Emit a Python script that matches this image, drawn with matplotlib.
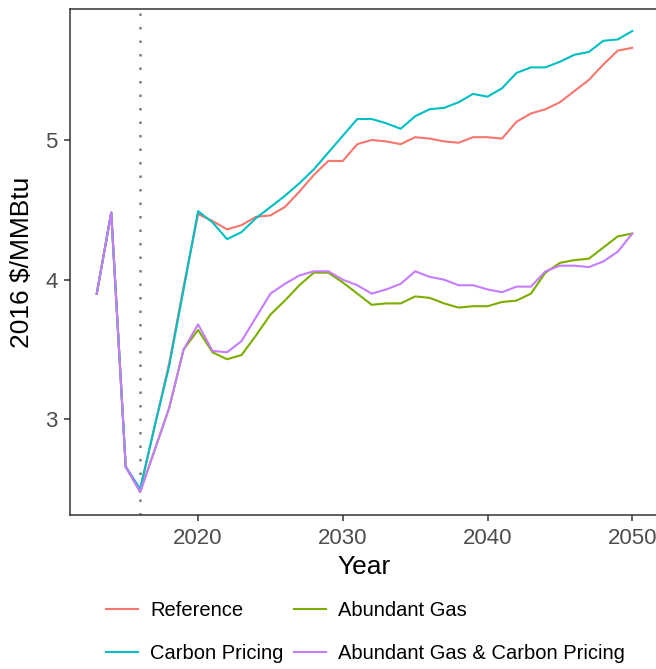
import numpy as np
import matplotlib
matplotlib.use("Agg")
import matplotlib.pyplot as plt

plt.rcParams['font.family'] = ['Liberation Sans', 'DejaVu Sans']

years = list(range(2013, 2051))

# Henry Hub style gas price, 2016 $/MMBtu, by scenario
reference = [3.90, 4.48, 2.66, 2.50, 2.95, 3.40, 3.95, 4.47,
             4.42, 4.36, 4.39, 4.45, 4.46, 4.52, 4.63, 4.75, 4.85, 4.85,
             4.97, 5.00, 4.99, 4.97, 5.02, 5.01, 4.99, 4.98, 5.02, 5.02,
             5.01, 5.13, 5.19, 5.22, 5.27, 5.35, 5.43, 5.54, 5.64, 5.66]
abundant_gas = [3.90, 4.48, 2.66, 2.48, 2.78, 3.08, 3.50, 3.64,
                3.48, 3.43, 3.46, 3.60, 3.75, 3.85, 3.96, 4.05, 4.05, 3.98,
                3.90, 3.82, 3.83, 3.83, 3.88, 3.87, 3.83, 3.80, 3.81, 3.81,
                3.84, 3.85, 3.90, 4.05, 4.12, 4.14, 4.15, 4.23, 4.31, 4.33]
carbon_pricing = [3.90, 4.48, 2.66, 2.50, 2.95, 3.38, 3.93, 4.49,
                  4.41, 4.29, 4.34, 4.44, 4.52, 4.60, 4.69, 4.79, 4.91, 5.03,
                  5.15, 5.15, 5.12, 5.08, 5.17, 5.22, 5.23, 5.27, 5.33, 5.31,
                  5.37, 5.48, 5.52, 5.52, 5.56, 5.61, 5.63, 5.71, 5.72, 5.78]
abundant_gas_cp = [3.90, 4.48, 2.66, 2.48, 2.78, 3.08, 3.50, 3.68,
                   3.49, 3.48, 3.56, 3.73, 3.90, 3.97, 4.03, 4.06, 4.06, 4.00,
                   3.96, 3.90, 3.93, 3.97, 4.06, 4.02, 4.00, 3.96, 3.96, 3.93,
                   3.91, 3.95, 3.95, 4.06, 4.10, 4.10, 4.09, 4.13, 4.20, 4.33]

scenarios = ["Reference", "Abundant Gas", "Carbon Pricing",
             "Abundant Gas & Carbon Pricing"]
series = [reference, abundant_gas, carbon_pricing, abundant_gas_cp]
colors = ["#F8766D", "#7CAE00", "#00BFC4", "#C77CFF"]
base_year = 2016

fig = plt.figure(figsize=(6.56, 6.69), dpi=100)
ax = fig.add_axes([70 / 656, 1 - 515 / 669, 589 / 656, (515 - 8.7) / 669])

ax.axvline(base_year, color="#7F7F7F", lw=1.8, linestyle=(0, (1, 4.4)),
           dash_capstyle="butt", zorder=1)

handles = {}
for name, vals, c in zip(scenarios, series, colors):
    h, = ax.plot(years, vals, color=c, lw=1.5, label=name, zorder=2)
    handles[name] = h

ax.set_xlim(2011.15, 2051.85)
ax.set_ylim(2.315, 5.94)
ax.set_xticks([2020, 2030, 2040, 2050])
ax.set_yticks([3, 4, 5])

for s in ax.spines.values():
    s.set_color("#333333")
    s.set_linewidth(1.1)
ax.tick_params(axis="both", direction="out", length=4, width=1.1,
               color="#333333", labelcolor="#4D4D4D", labelsize=16, pad=5)

ax.set_xlabel("Year", fontsize=19, color="black", labelpad=5)
ax.set_ylabel("2016 $/MMBtu", fontsize=19, color="black", labelpad=8)

# two-by-two legend under the plot
order = ["Reference", "Carbon Pricing", "Abundant Gas",
         "Abundant Gas & Carbon Pricing"]
fig.legend([handles[n] for n in order], order, ncol=2, frameon=False,
           loc="center", bbox_to_anchor=(0.557, 0.055), fontsize=14.5,
           handlelength=1.6, handletextpad=0.6, columnspacing=0.5,
           labelspacing=1.2)

fig.savefig("out.png", dpi=100)
